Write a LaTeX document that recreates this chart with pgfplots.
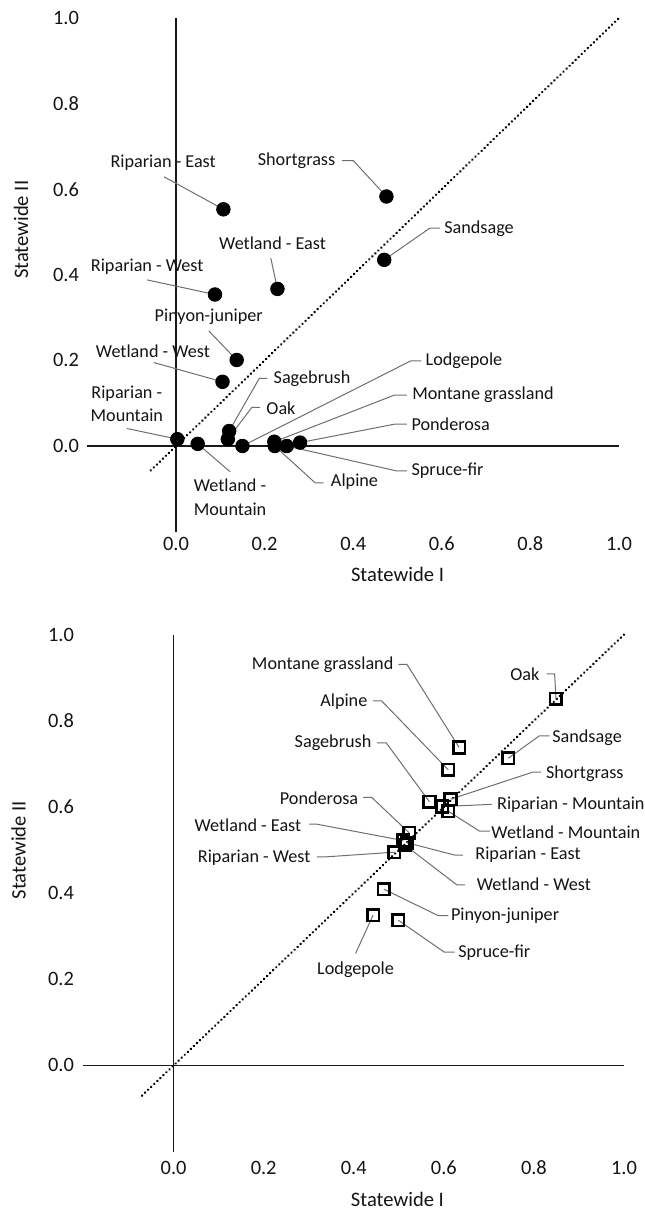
\documentclass[border=0pt]{standalone}
\usepackage{fontspec}
\setmainfont{Carlito}
\usepackage{pgfplots}
\pgfplotsset{compat=1.18}
\definecolor{leadgray}{RGB}{110,110,110}
\tikzset{
  lab/.style={font=\fontsize{9.1}{10.7}\selectfont, inner sep=0pt, align=center, text=black!92},
  ttl/.style={font=\fontsize{10.3}{12}\selectfont, inner sep=0pt, text=black!92},
  lead/.style={draw=leadgray, line width=0.5pt},
  zline/.style={draw=black!90, line width=0.7pt},
  diag/.style={black, line width=1.35pt, dash pattern=on 0.01pt off 2.1pt, line cap=round},
}
\pgfplotsset{
  myax/.style={
    scale only axis,
    xmin=-0.2,xmax=1.0,ymin=-0.2,ymax=1.0,
    axis x line=bottom, axis y line=left,
    axis line style={draw=none},
    major tick length=0pt,
    xtick={0,0.2,0.4,0.6,0.8,1},
    ytick={0,0.2,0.4,0.6,0.8,1},
    xticklabels={0.0,0.2,0.4,0.6,0.8,1.0},
    yticklabels={0.0,0.2,0.4,0.6,0.8,1.0},
    tick label style={font=\fontsize{10.2}{12}\selectfont, inner sep=0pt, text=black!92},
    clip=false,
  },
}
\begin{document}
\begin{tikzpicture}
\path (0pt,0pt) rectangle (322pt,-605.5pt);
% ---------------- top panel ----------------
\begin{axis}[myax, at={(43.7pt,-265.8pt)}, anchor=south west,
  width=265.8pt, height=256.8pt,
  xticklabel style={anchor=center, yshift=-6.2pt},
  yticklabel style={anchor=center, xshift=-10.7pt}]
\draw[zline] (axis cs:-0.2,0) -- (axis cs:1,0);
\draw[zline] (axis cs:0,-0.2) -- (axis cs:0,1);
\addplot[diag] coordinates {(-0.057,-0.057) (1,1)};
% leader lines
\draw[lead] (axis cs:0.375,0.667) -- (axis cs:0.400,0.667) -- (axis cs:0.475,0.583);
\draw[lead] (axis cs:0.596,0.509) -- (axis cs:0.573,0.509) -- (axis cs:0.470,0.435);
\draw[lead] (axis cs:0.206,0.158) -- (axis cs:0.188,0.158) -- (axis cs:0.120,0.035);
\draw[lead] (axis cs:0.190,0.090) -- (axis cs:0.171,0.090) -- (axis cs:0.117,0.016);
\draw[lead] (axis cs:0.554,0.199) -- (axis cs:0.530,0.199) -- (axis cs:0.150,0.000);
\draw[lead] (axis cs:0.521,0.119) -- (axis cs:0.493,0.119) -- (axis cs:0.222,0.010);
\draw[lead] (axis cs:0.521,0.051) -- (axis cs:0.493,0.051) -- (axis cs:0.280,0.008);
\draw[lead] (axis cs:0.521,-0.058) -- (axis cs:0.497,-0.058) -- (axis cs:0.250,0.000);
\draw[lead] (axis cs:0.333,-0.086) -- (axis cs:0.314,-0.086) -- (axis cs:0.223,0.000);
\draw[lead] (axis cs:-0.027,0.629) -- (axis cs:0.107,0.553);
\draw[lead] (axis cs:0.214,0.439) -- (axis cs:0.229,0.367);
\draw[lead] (axis cs:-0.065,0.388) -- (axis cs:0.088,0.354);
\draw[lead] (axis cs:0.074,0.269) -- (axis cs:0.137,0.201);
\draw[lead] (axis cs:-0.050,0.195) -- (axis cs:0.105,0.150);
\draw[lead] (axis cs:-0.111,0.041) -- (axis cs:0.003,0.016);
\draw[lead] (axis cs:0.122,-0.060) -- (axis cs:0.049,0.005);
\addplot[only marks, mark=*, mark size=3.4pt, black] table {
x y
0.107 0.553
0.475 0.583
0.470 0.435
0.229 0.367
0.088 0.354
0.137 0.201
0.105 0.150
0.003 0.016
0.049 0.005
0.120 0.035
0.117 0.016
0.150 0.000
0.222 0.010
0.223 0.000
0.250 0.000
0.280 0.008
};
\node[lab] at (axis cs:-0.029,0.661) {Riparian - East};
\node[lab] at (axis cs:0.272,0.666) {Shortgrass};
\node[lab] at (axis cs:0.684,0.508) {Sandsage};
\node[lab] at (axis cs:0.218,0.474) {Wetland - East};
\node[lab] at (axis cs:-0.065,0.419) {Riparian - West};
\node[lab] at (axis cs:0.074,0.301) {Pinyon-juniper};
\node[lab] at (axis cs:-0.052,0.222) {Wetland - West};
\node[lab] at (axis cs:-0.111,0.099) {Riparian -\\[1pt]Mountain};
\node[lab] at (axis cs:0.122,-0.120) {Wetland -\\[1pt]Mountain};
\node[lab] at (axis cs:0.307,0.156) {Sagebrush};
\node[lab] at (axis cs:0.237,0.089) {Oak};
\node[lab] at (axis cs:0.650,0.199) {Lodgepole};
\node[lab] at (axis cs:0.693,0.119) {Montane grassland};
\node[lab] at (axis cs:0.620,0.051) {Ponderosa};
\node[lab] at (axis cs:0.613,-0.058) {Spruce-fir};
\node[lab] at (axis cs:0.403,-0.084) {Alpine};
\node[ttl, rotate=90] at (axis cs:-0.35,0.505) {Statewide II};
\node[ttl] at (axis cs:0.50,-0.30) {Statewide I};
\end{axis}
% ---------------- bottom panel ----------------
\begin{axis}[myax, at={(41.75pt,-575.8pt)}, anchor=south west,
  width=270.25pt, height=258.5pt,
  xticklabel style={anchor=center, yshift=-8.2pt},
  yticklabel style={anchor=center, xshift=-11.25pt}]
\draw[zline] (axis cs:-0.2,0) -- (axis cs:1,0);
\draw[zline] (axis cs:0,-0.2) -- (axis cs:0,1);
\addplot[diag] coordinates {(-0.07,-0.07) (1,1)};
\draw[lead] (axis cs:0.499,0.931) -- (axis cs:0.518,0.931) -- (axis cs:0.634,0.738);
\draw[lead] (axis cs:0.443,0.846) -- (axis cs:0.462,0.846) -- (axis cs:0.610,0.686);
\draw[lead] (axis cs:0.452,0.749) -- (axis cs:0.472,0.749) -- (axis cs:0.568,0.612);
\draw[lead] (axis cs:0.421,0.622) -- (axis cs:0.440,0.622) -- (axis cs:0.523,0.540);
\draw[lead] (axis cs:0.301,0.560) -- (axis cs:0.318,0.560) -- (axis cs:0.510,0.522);
\draw[lead] (axis cs:0.318,0.484) -- (axis cs:0.336,0.484) -- (axis cs:0.490,0.495);
\draw[lead] (axis cs:0.643,0.488) -- (axis cs:0.625,0.488) -- (axis cs:0.518,0.517);
\draw[lead] (axis cs:0.647,0.419) -- (axis cs:0.629,0.419) -- (axis cs:0.513,0.512);
\draw[lead] (axis cs:0.816,0.681) -- (axis cs:0.798,0.681) -- (axis cs:0.615,0.618);
\draw[lead] (axis cs:0.706,0.606) -- (axis cs:0.596,0.601);
\draw[lead] (axis cs:0.702,0.544) -- (axis cs:0.679,0.544) -- (axis cs:0.610,0.590);
\draw[lead] (axis cs:0.835,0.765) -- (axis cs:0.812,0.765) -- (axis cs:0.743,0.713);
\draw[lead] (axis cs:0.828,0.909) -- (axis cs:0.846,0.909) -- (axis cs:0.849,0.851);
\draw[lead] (axis cs:0.610,0.348) -- (axis cs:0.587,0.348) -- (axis cs:0.467,0.409);
\draw[lead] (axis cs:0.624,0.263) -- (axis cs:0.601,0.263) -- (axis cs:0.499,0.337);
\draw[lead] (axis cs:0.404,0.260) -- (axis cs:0.443,0.349);
\addplot[only marks, mark=square, mark size=2.9pt, black, mark options={line width=1.3pt}] table {
x y
0.849 0.851
0.634 0.738
0.743 0.713
0.610 0.686
0.568 0.612
0.615 0.618
0.596 0.601
0.610 0.590
0.523 0.540
0.510 0.522
0.518 0.517
0.513 0.512
0.490 0.495
0.467 0.409
0.443 0.349
0.499 0.337
};
\node[lab] at (axis cs:0.331,0.929) {Montane grassland};
\node[lab] at (axis cs:0.378,0.845) {Alpine};
\node[lab] at (axis cs:0.354,0.748) {Sagebrush};
\node[lab] at (axis cs:0.323,0.621) {Ponderosa};
\node[lab] at (axis cs:0.165,0.558) {Wetland - East};
\node[lab] at (axis cs:0.179,0.483) {Riparian - West};
\node[lab] at (axis cs:0.787,0.488) {Riparian - East};
\node[lab] at (axis cs:0.800,0.421) {Wetland - West};
\node[lab] at (axis cs:0.913,0.678) {Shortgrass};
\node[lab] at (axis cs:0.882,0.606) {Riparian - Mountain};
\node[lab] at (axis cs:0.871,0.542) {Wetland - Mountain};
\node[lab] at (axis cs:0.918,0.761) {Sandsage};
\node[lab] at (axis cs:0.780,0.909) {Oak};
\node[lab] at (axis cs:0.736,0.348) {Pinyon-juniper};
\node[lab] at (axis cs:0.712,0.261) {Spruce-fir};
\node[lab] at (axis cs:0.404,0.221) {Lodgepole};
\node[ttl, rotate=90] at (axis cs:-0.344,0.5) {Statewide II};
\node[ttl] at (axis cs:0.497,-0.311) {Statewide I};
\end{axis}
\end{tikzpicture}
\end{document}
